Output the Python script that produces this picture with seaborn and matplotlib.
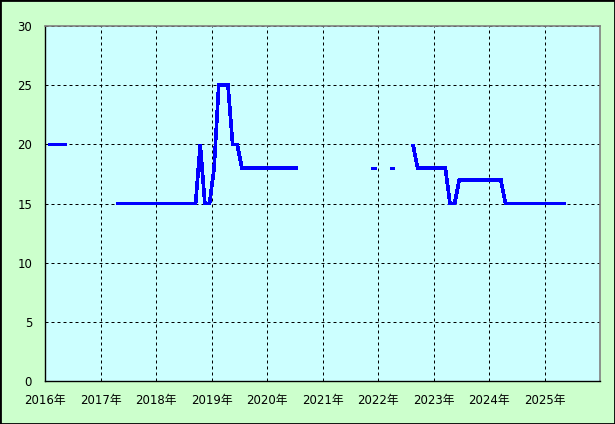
import numpy as np
import pandas as pd
import matplotlib
matplotlib.use("Agg")
import matplotlib.pyplot as plt
import seaborn as sns
from matplotlib.patches import Rectangle

nan = np.nan
# monthly values, Jan 2016 .. Dec 2025 (NaN = no data)
v2016 = [20, 20, 20, 20, 20, nan, nan, nan, nan, nan, nan, nan]
v2017 = [nan, nan, nan, 15, 15, 15, 15, 15, 15, 15, 15, 15]
v2018 = [15, 15, 15, 15, 15, 15, 15, 15, 15, 20, 15, 15]
v2019 = [18, 25, 25, 25, 20, 20, 18, 18, 18, 18, 18, 18]
v2020 = [18, 18, 18, 18, 18, 18, 18, nan, nan, nan, nan, nan]
v2021 = [nan, nan, nan, nan, nan, nan, nan, nan, nan, nan, 18, 18]
v2022 = [nan, nan, 18, 18, nan, nan, nan, 20, 18, 18, 18, 18]
v2023 = [18, 18, 18, 15, 15, 17, 17, 17, 17, 17, 17, 17]
v2024 = [17, 17, 17, 15, 15, 15, 15, 15, 15, 15, 15, 15]
v2025 = [15, 15, 15, 15, 15, nan, nan, nan, nan, nan, nan, nan]

years = list(range(2016, 2026))
year_labels = [f"{y}年" for y in years]
y_ticks = [0, 5, 10, 15, 20, 25, 30]

values = v2016 + v2017 + v2018 + v2019 + v2020 + v2021 + v2022 + v2023 + v2024 + v2025
months = np.arange(len(values))
xpos = 2016 + (months + 0.5) / 12.0

df = pd.DataFrame({"x": xpos, "y": values})
# segment id for contiguous runs of data (keeps gaps)
df["seg"] = df["y"].isna().cumsum()
df = df.dropna()

sns.set_style("white")
plt.rcParams["font.family"] = ["DejaVu Sans", "Noto Sans CJK JP"]

fig = plt.figure(figsize=(6.15, 4.24), dpi=100, facecolor="#CCFFCC")
ax = fig.add_axes([45.3 / 615, 1 - 381.3 / 424, (600.3 - 45.3) / 615, (381.3 - 26) / 424])
ax.set_facecolor("#CCFFFF")

sns.lineplot(data=df, x="x", y="y", units="seg", estimator=None,
             color="#0000FF", linewidth=1.9, ax=ax, legend=False)
for l in ax.lines:
    l.set_solid_capstyle("butt")
    l.set_solid_joinstyle("miter")
    l.set_antialiased(False)

ax.set_xlim(2016, 2026)
ax.set_ylim(0, 30)
ax.set_xticks(years)
ax.set_xticklabels(year_labels)
ax.set_yticks(y_ticks)
ax.set_yticklabels([str(t) for t in y_ticks])
ax.set_xlabel("")
ax.set_ylabel("")

ax.grid(True, color="black", linestyle=(0, (3, 3)), linewidth=0.72)
ax.set_axisbelow(True)
ax.tick_params(axis="both", length=0, labelsize=8.5, colors="black")
ax.tick_params(axis="y", pad=9.5)
ax.tick_params(axis="x", pad=9)

for side in ["left", "bottom"]:
    ax.spines[side].set_color("black")
    ax.spines[side].set_linewidth(1.0)
for side in ["top", "right"]:
    ax.spines[side].set_color("#808080")
    ax.spines[side].set_linewidth(1.2)
    ax.spines[side].set_visible(True)

fig.patches.append(Rectangle((0, 0), 1, 1, transform=fig.transFigure,
                             fill=False, edgecolor="black", linewidth=2.0))

fig.savefig("out.png", dpi=100, facecolor=fig.get_facecolor())
